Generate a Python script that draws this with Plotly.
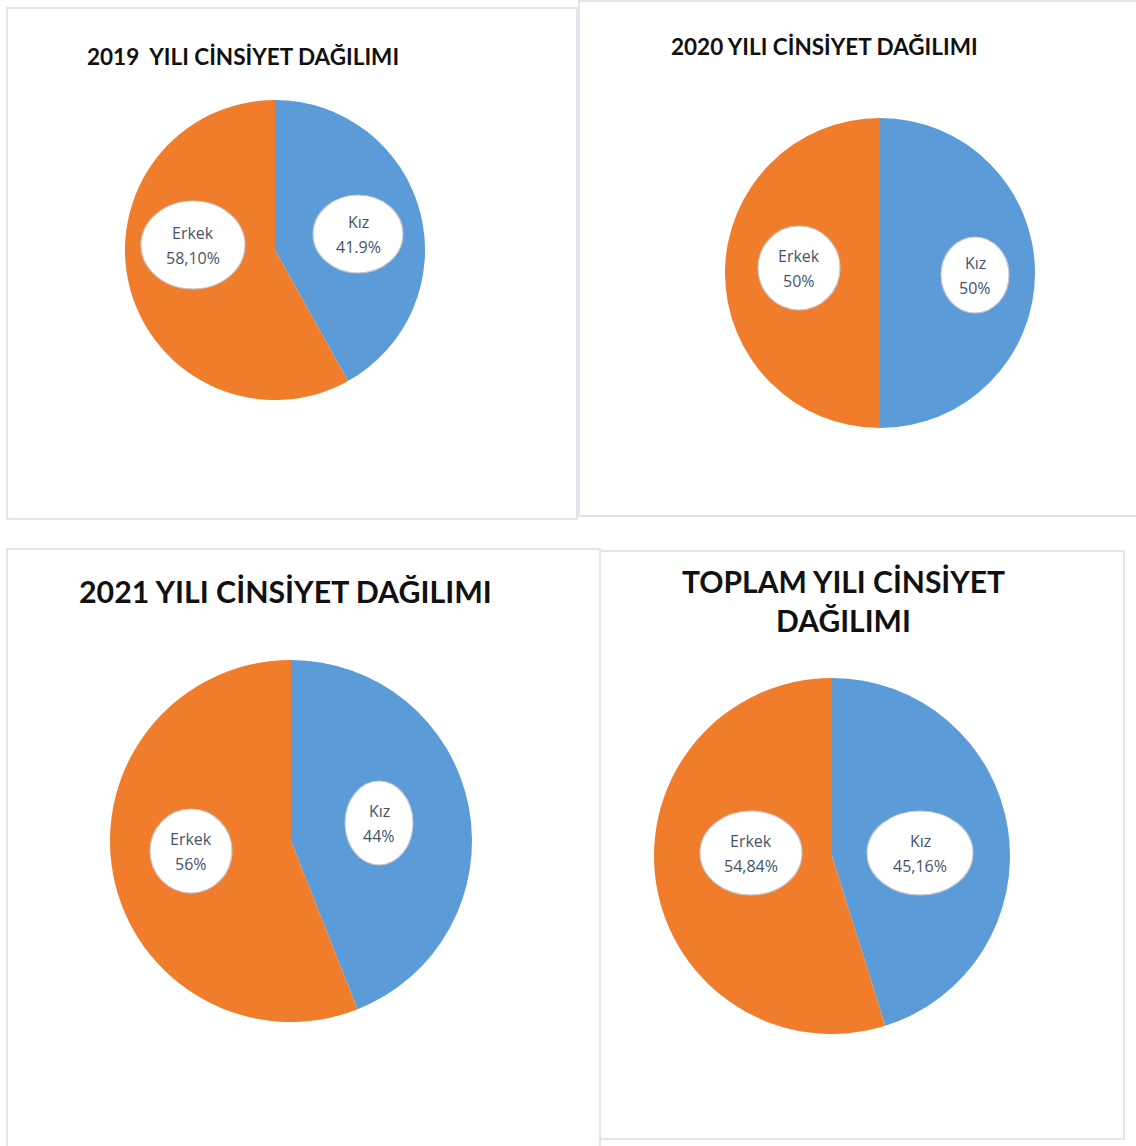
import plotly.graph_objects as go

W, H = 1136, 1146

categories = ["Kız", "Erkek"]
titles = ["2019  YILI CİNSİYET DAĞILIMI", "2020 YILI CİNSİYET DAĞILIMI",
          "2021 YILI CİNSİYET DAĞILIMI", "TOPLAM YILI CİNSİYET<br>DAĞILIMI"]
values_2019 = [41.9, 58.1]
values_2020 = [50, 50]
values_2021 = [44, 56]
values_total = [45.16, 54.84]
label_text_2019 = ["41.9%", "58,10%"]
label_text_2020 = ["50%", "50%"]
label_text_2021 = ["44%", "56%"]
label_text_total = ["45,16%", "54,84%"]

colors = ["#5A9BD8", "#F07D2C"]

# layout (pixels): pie center/radius, panel rect, title pos/size, label ellipses
panels = [
    dict(vals=values_2019, txt=label_text_2019, c=(275, 250), r=150,
         rect=(7, 8, 577, 519), title=(243, 57, 22.5),
         ell=[(358, 234, 45, 39), (193, 245, 52, 44)]),
    dict(vals=values_2020, txt=label_text_2020, c=(880, 273), r=155,
         rect=(579, 1, 1140, 516), title=(824, 47, 22.5),
         ell=[(975, 275, 34, 38), (799, 268, 41, 42)]),
    dict(vals=values_2021, txt=label_text_2021, c=(291, 841), r=181,
         rect=(7, 549, 600, 1150), title=(285, 591, 30.3),
         ell=[(379, 823, 34, 42), (191, 851, 41, 42)]),
    dict(vals=values_total, txt=label_text_total, c=(832, 856), r=178,
         rect=(600, 551, 1124, 1139), title=(843, 600, 30),
         ell=[(920, 853, 53, 42), (751, 853, 51, 42)]),
]

def px(x):
    return x / W

def py(y):
    return 1 - y / H

fig = go.Figure()
shapes = []
annotations = []
for i, p in enumerate(panels):
    cx, cy = p["c"]
    r = p["r"]
    fig.add_trace(go.Pie(
        labels=categories, values=p["vals"], sort=False, direction="clockwise",
        rotation=0, marker=dict(colors=colors, line=dict(width=0)),
        textinfo="none", hoverinfo="label+percent", showlegend=False,
        domain=dict(x=[px(cx - r), px(cx + r)], y=[py(cy + r), py(cy - r)]),
    ))
    x0, y0, x1, y1 = p["rect"]
    shapes.append(dict(type="rect", xref="paper", yref="paper", layer="below",
                       x0=px(x0), x1=px(x1), y0=py(y1), y1=py(y0),
                       line=dict(color="#E1E5EC", width=2), fillcolor="white"))
    tx, ty, ts = p["title"]
    ttext = "<b>" + titles[i].replace("<br>", "</b><br><b>") + "</b>"
    annotations.append(dict(text=ttext, x=px(tx), y=py(ty), xref="paper", yref="paper",
                            showarrow=False, xanchor="center", yanchor="middle",
                            font=dict(family="Lato", size=ts, color="#111111")))
    for j, (ex, ey, rx, ry) in enumerate(p["ell"]):
        shapes.append(dict(type="circle", xref="paper", yref="paper", layer="above",
                           x0=px(ex - rx), x1=px(ex + rx), y0=py(ey + ry), y1=py(ey - ry),
                           fillcolor="white", line=dict(color="#C4C8CE", width=1.2)))
        annotations.append(dict(text=categories[j], x=px(ex), y=py(ey - 12),
                                xref="paper", yref="paper", showarrow=False,
                                xanchor="center", yanchor="middle",
                                font=dict(family="Open Sans", size=16, color="#44546A")))
        annotations.append(dict(text=p["txt"][j], x=px(ex), y=py(ey + 13),
                                xref="paper", yref="paper", showarrow=False,
                                xanchor="center", yanchor="middle",
                                font=dict(family="Open Sans", size=16, color="#44546A")))

fig.update_layout(width=W, height=H, margin=dict(l=0, r=0, t=0, b=0),
                  paper_bgcolor="white", plot_bgcolor="white",
                  shapes=shapes, annotations=annotations)

fig.write_html("out.html", config={"displayModeBar": False},
               post_script="document.body.style.margin='0';document.body.style.overflow='hidden';")
